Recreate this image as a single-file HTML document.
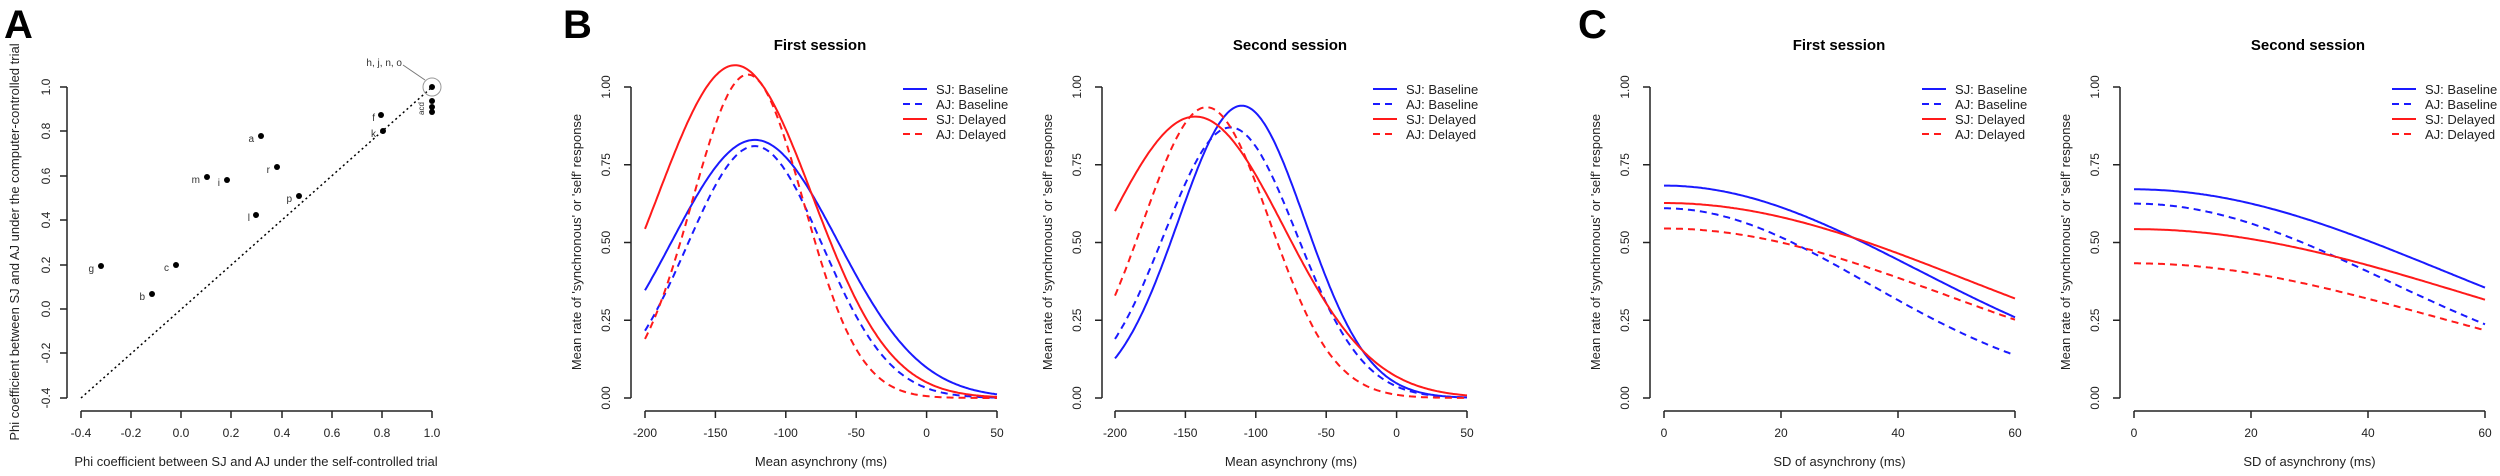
<!DOCTYPE html>
<html><head><meta charset="utf-8"><style>
html,body{margin:0;padding:0;background:#fff}
svg{display:block;font-family:"Liberation Sans",Arial,sans-serif}
.t{font-size:12px;fill:#222}
.lab{font-size:13px;fill:#222}
.ttl{font-size:15px;font-weight:bold;fill:#000}
.big{font-size:40px;font-weight:bold;fill:#000}
.ax{stroke:#222;stroke-width:1.5;fill:none}
.leg{font-size:13px;fill:#222}
</style></head><body>
<svg id="s" width="2500" height="476" viewBox="0 0 2500 476" xmlns="http://www.w3.org/2000/svg">
<rect width="2500" height="476" fill="#fff"/>
<text class="big" x="4" y="38">A</text>
<text class="big" x="563" y="38">B</text>
<text class="big" x="1578" y="38">C</text>

<!-- Panel A -->
<g>
<path class="ax" d="M67,87V398M67,87h-7M67,131h-7M67,176h-7M67,220h-7M67,265h-7M67,309h-7M67,353h-7M67,398h-7"/>
<path class="ax" d="M81,411H432M81,411v7M131,411v7M181,411v7M231,411v7M282,411v7M332,411v7M382,411v7M432,411v7"/>
<g class="t" text-anchor="middle">
<text transform="translate(50,87) rotate(-90)">1.0</text>
<text transform="translate(50,131) rotate(-90)">0.8</text>
<text transform="translate(50,176) rotate(-90)">0.6</text>
<text transform="translate(50,220) rotate(-90)">0.4</text>
<text transform="translate(50,265) rotate(-90)">0.2</text>
<text transform="translate(50,309) rotate(-90)">0.0</text>
<text transform="translate(50,353) rotate(-90)">-0.2</text>
<text transform="translate(50,398) rotate(-90)">-0.4</text>
<text x="81" y="437">-0.4</text><text x="131" y="437">-0.2</text><text x="181" y="437">0.0</text><text x="231" y="437">0.2</text>
<text x="282" y="437">0.4</text><text x="332" y="437">0.6</text><text x="382" y="437">0.8</text><text x="432" y="437">1.0</text>
</g>
<text class="lab" text-anchor="middle" transform="translate(19,242) rotate(-90)">Phi coefficient between SJ and AJ under the computer-controlled trial</text>
<text class="lab" text-anchor="middle" x="256" y="466">Phi coefficient between SJ and AJ under the self-controlled trial</text>
<line x1="81" y1="398" x2="431" y2="88" stroke="#000" stroke-width="1.5" stroke-dasharray="2 3"/>
<g fill="#000">
<circle cx="101" cy="266" r="3"/><circle cx="152" cy="294" r="3"/><circle cx="176" cy="265" r="3"/>
<circle cx="207" cy="177" r="3"/><circle cx="227" cy="180" r="3"/><circle cx="256" cy="215" r="3"/>
<circle cx="261" cy="136" r="3"/><circle cx="277" cy="167" r="3"/><circle cx="299" cy="196" r="3"/>
<circle cx="381" cy="115" r="3"/><circle cx="383" cy="131" r="3"/>
<circle cx="432" cy="87" r="3"/><circle cx="432" cy="101" r="3"/><circle cx="432" cy="107" r="3"/><circle cx="432" cy="112" r="3"/>
</g>
<circle cx="432" cy="87" r="9" fill="none" stroke="#999" stroke-width="1"/>
<line x1="403" y1="65" x2="425" y2="80" stroke="#777" stroke-width="1"/>
<g style="font-size:10px;fill:#333" text-anchor="end">
<text x="94" y="272">g</text><text x="145" y="300">b</text><text x="169" y="271">c</text><text x="200" y="183">m</text>
<text x="220" y="186">i</text><text x="250" y="221">l</text><text x="254" y="142">a</text><text x="270" y="173">r</text>
<text x="292" y="202">p</text><text x="375" y="121">f</text><text x="376" y="137">k</text>
<text x="402" y="66">h, j, n, o</text>
</g>
<text style="font-size:8px;fill:#333" transform="translate(424,115) rotate(-90)">acd</text>
</g>

<!-- Titles -->
<text class="ttl" text-anchor="middle" x="820" y="50">First session</text>
<text class="ttl" text-anchor="middle" x="1290" y="50">Second session</text>
<text class="ttl" text-anchor="middle" x="1839" y="50">First session</text>
<text class="ttl" text-anchor="middle" x="2308" y="50">Second session</text>

<g id="axes"></g>
<g id="curves"></g>
</svg>
<script>
(function(){
var NS="http://www.w3.org/2000/svg";
var axes=document.getElementById("axes"),cur=document.getElementById("curves");
function el(p,tag,attrs,txt){var e=document.createElementNS(NS,tag);for(var k in attrs)e.setAttribute(k,attrs[k]);if(txt!=null)e.textContent=txt;p.appendChild(e);return e;}
var panels=[
 {ax:631,x0:645,x1:997,xmin:-200,xmax:50,ticks:[-200,-150,-100,-50,0,50],xl:"Mean asynchrony (ms)",leg:903,
  c:[[0.83,-122,59],[0.81,-122,48],[1.07,-136,55],[1.04,-127,39.6]],g:1},
 {ax:1102,x0:1115,x1:1467,xmin:-200,xmax:50,ticks:[-200,-150,-100,-50,0,50],xl:"Mean asynchrony (ms)",leg:1373,
  c:[[0.94,-110,45],[0.87,-118,47],[0.905,-143,63],[0.935,-135,45]],g:1},
 {ax:1650,x0:1664,x1:2015,xmin:0,xmax:60,ticks:[0,20,40,60],xl:"SD of asynchrony (ms)",leg:1922,
  c:[[0.683,0,Math.sqrt(1861)],[0.61,0,Math.sqrt(1208)],[0.627,0,Math.sqrt(2675)],[0.545,0,Math.sqrt(2329)]]},
 {ax:2120,x0:2134,x1:2485,xmin:0,xmax:60,ticks:[0,20,40,60],xl:"SD of asynchrony (ms)",leg:2392,
  c:[[0.671,0,Math.sqrt(2826)],[0.625,0,Math.sqrt(1856)],[0.543,0,Math.sqrt(3327)],[0.433,0,Math.sqrt(2620)]]}
];
var cols=["#1a1aff","#1a1aff","#ff1a1a","#ff1a1a"],dash=[null,"7 5",null,"7 5"];
var names=["SJ: Baseline","AJ: Baseline","SJ: Delayed","AJ: Delayed"];
function Y(v){return 398-v*311;}
panels.forEach(function(p){
 var d="M"+p.ax+",87V398";
 [0,0.25,0.5,0.75,1].forEach(function(v){d+="M"+p.ax+","+Y(v)+"h-7";
  el(axes,"text",{"class":"t","text-anchor":"middle",transform:"translate("+(p.ax-21)+","+Y(v)+") rotate(-90)"},v.toFixed(2));});
 d+="M"+p.x0+",411H"+p.x1;
 p.ticks.forEach(function(t){var x=p.x0+(t-p.xmin)/(p.xmax-p.xmin)*(p.x1-p.x0);d+="M"+x+",411v7";
  el(axes,"text",{"class":"t","text-anchor":"middle",x:x,y:437},String(t));});
 el(axes,"path",{"class":"ax",d:d});
 el(axes,"text",{"class":"lab","text-anchor":"middle",x:(p.x0+p.x1)/2,y:466},p.xl);
 el(axes,"text",{"class":"lab","text-anchor":"middle",transform:"translate("+(p.ax-50)+",242) rotate(-90)"},"Mean rate of 'synchronous' or 'self' response");
 p.c.forEach(function(c,i){
  var pts=[];for(var k=0;k<=200;k++){var xv=p.xmin+(p.xmax-p.xmin)*k/200;var yv=c[0]*Math.exp(-Math.pow(xv-c[1],2)/(2*c[2]*c[2]));
   pts.push((p.x0+(p.x1-p.x0)*k/200).toFixed(1)+","+Y(yv).toFixed(1));}
  var a={points:pts.join(" "),fill:"none",stroke:cols[i],"stroke-width":2};if(dash[i])a["stroke-dasharray"]=dash[i];
  el(cur,"polyline",a);
  var ly=89+i*15;var la={x1:p.leg,x2:p.leg+24,y1:ly,y2:ly,stroke:cols[i],"stroke-width":2};if(dash[i])la["stroke-dasharray"]="7 5";
  el(cur,"line",la);
  el(cur,"text",{"class":"leg",x:p.leg+33,y:ly+5},names[i]);
 });
});
})();
</script>
</body></html>
